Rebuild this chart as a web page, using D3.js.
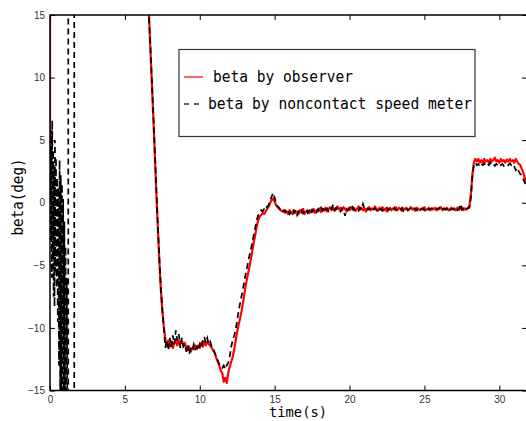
<!DOCTYPE html>
<html><head><meta charset="utf-8">
<script src="https://cdn.jsdelivr.net/npm/d3@7"></script>
<style>body{margin:0;background:#fff} svg{display:block}</style>
</head><body><svg id="c" width="526" height="421"></svg>
<script>
// ---- data ----
const xTicks = [0, 5, 10, 15, 20, 25, 30];
const yTicks = [-15, -10, -5, 0, 5, 10, 15];
const legendLabels = ["beta by observer", "beta by noncontact speed meter"];
const xLabel = "time(s)";
const yLabel = "beta(deg)";

// sampling of the regular parts of both series
const sampleStart = 6.5;   // s
const sampleStep = 0.1;    // s

// observer estimate (red): lead-in at t=0 (leaves the range), then regular samples
const redLead = [[0, 0.2], [0.01, 40]];
const redValues = [
  18, 15.2, 12.4, 9.6, 6.8, 3.8, 0.8, -2.0, -4.6, -6.9, -8.6, -9.9, -10.9,
  -11.4, -11.0, -11.5, -11.1, -11.6, -11.2, -10.9, -11.4, -11.0, -11.3,
  -11.0, -11.4, -11.2, -11.6, -11.8, -11.5, -11.9, -11.6, -11.7, -11.4,
  -11.7, -11.4, -11.6, -11.2, -11.5, -11.1, -11.4, -11.1, -11.3, -11.4,
  -11.6, -11.8, -12.0, -12.4, -12.7, -13.0, -13.4, -13.6, -14.3, -14.0,
  -14.4, -13.6, -13.1, -12.7, -12.3, -11.7, -11.0, -10.3, -9.7, -9.2,
  -8.6, -7.9, -7.1, -6.4, -5.8, -5.2, -4.6, -3.9, -3.2, -2.6,
  -1.9, -1.4, -1.1, -1.0, -0.8, -0.9, -0.7, -0.5, -0.3, 0.0,
  0.2, 0.35, 0.1, -0.2, -0.35, -0.5, -0.6, -0.7, -0.6, -0.8,
  -0.7, -0.9, -0.6, -0.8, -0.9, -0.6, -0.8, -0.7, -0.9, -0.6,
  -0.8, -0.5, -0.9, -0.7, -0.6, -0.85, -0.6, -0.75, -0.5, -0.8,
  -0.6, -0.7, -0.45, -0.75, -0.5, -0.65, -0.4, -0.7, -0.5, -0.35,
  -0.6, -0.4, -0.65, -0.45, -0.3, -0.55, -0.4, -0.6, -0.35, -0.5,
  -0.7, -0.45, -0.6, -0.35, -0.55, -0.4, -0.65, -0.5, -0.3, -0.55,
  -0.4, -0.6, -0.45, -0.7, -0.5, -0.35, -0.6, -0.45, -0.55, -0.3,
  -0.5, -0.65, -0.4, -0.55, -0.35, -0.6, -0.45, -0.7, -0.5, -0.4,
  -0.6, -0.45, -0.55, -0.35, -0.6, -0.4, -0.5, -0.65, -0.45, -0.55,
  -0.4, -0.6, -0.5, -0.35, -0.55, -0.45, -0.65, -0.4, -0.5, -0.6,
  -0.45, -0.55, -0.35, -0.6, -0.5, -0.4, -0.6, -0.45, -0.55, -0.4,
  -0.6, -0.45, -0.5, -0.35, -0.6, -0.45, -0.55, -0.4, -0.6, -0.5,
  -0.4, -0.55, -0.45, -0.6, -0.4, -0.55, -0.5, -0.35, -0.6, -0.45,
  -0.55, -0.4, -0.3, 0.6, 2.2, 3.2, 3.5, 3.3, 3.5, 3.2,
  3.4, 3.2, 3.5, 3.3, 3.4, 3.2, 3.5, 3.3, 3.4, 3.6,
  3.3, 3.4, 3.2, 3.5, 3.3, 3.4, 3.2, 3.45, 3.3, 3.5,
  3.3, 3.4, 3.2, 3.5, 3.3, 3.1, 3.0, 2.7, 2.4, 2.0,
  1.6
];

// noncontact speed meter (black dashed): oscillating start, two off-range spikes, then regular samples
const blackLead = [
  [0, 0.5], [0.03, 4.5], [0.06, -3], [0.09, 5.8], [0.12, -6], [0.15, 6.6], [0.18, -4.5],
  [0.21, 4.2], [0.24, -7.5], [0.27, 3], [0.3, -8.3], [0.33, 5], [0.36, -5.5], [0.4, 3.6],
  [0.44, -6.8], [0.48, 2], [0.52, -9.5], [0.56, 1.2], [0.6, -13], [0.64, 3.4], [0.68, -17],
  [0.72, 2.2], [0.76, -17], [0.8, 1.5], [0.84, -17], [0.88, 0.3], [0.92, -17], [0.96, -1.5],
  [1.0, -17], [1.04, -3.5], [1.08, -17], [1.12, -6], [1.16, -17], [1.22, -40], [1.22, 40]
];
const blackSpike = [[1.62, 40], [1.62, -40]];
const blackValues = [
  18, 15.0, 12.6, 9.8, 7.0, 4.1, 1.1, -1.8, -4.4, -6.8, -8.6, -10.0, -11.6,
  -11.0, -11.8, -10.8, -11.5, -10.6, -11.3, -10.2, -11.0, -10.5, -11.6,
  -10.8, -11.5, -11.3, -11.9, -11.4, -12.1, -11.6, -11.8, -11.3, -11.7,
  -11.5, -11.8, -11.3, -11.6, -11.0, -10.7, -11.2, -10.8, -11.3, -11.1,
  -11.5, -11.6, -12.0, -12.3, -12.6, -12.9, -13.1, -13.2, -13.0, -13.3,
  -13.0, -12.8, -12.3, -11.5, -11.0, -10.6, -10.1, -9.4, -8.6, -8.0,
  -7.4, -6.8, -6.1, -5.5, -4.9, -4.3, -3.8, -3.2, -2.6, -2.0,
  -1.4, -1.0, -0.9, -0.6, -0.7, -0.5, -0.6, -0.3, -0.2, 0.2,
  0.5, 0.8, 0.4, -0.1, -0.3, -0.4, -0.6, -0.5, -0.7, -0.6,
  -0.8, -0.6, -0.9, -0.7, -0.5, -0.8, -0.6, -1.0, -0.7, -0.8,
  -0.6, -0.85, -0.7, -0.5, -0.8, -0.65, -0.9, -0.55, -0.7, -0.6,
  -0.75, -0.5, -0.7, -0.4, -0.6, -0.3, -0.55, -0.45, -0.65, -0.4,
  -0.5, -0.15, -0.55, -0.4, -0.6, -0.5, -0.7, -0.45, -0.55, -1.05,
  -0.5, -0.6, -0.4, -0.55, -0.35, -0.6, -0.45, -0.5, -0.65, -0.4,
  -0.55, -0.1, -0.5, -0.6, -0.45, -0.55, -0.4, -0.6, -0.5, -0.45,
  -0.6, -0.4, -0.55, -0.5, -0.65, -0.45, -0.5, -0.4, -0.6, -0.5,
  -0.45, -0.55, -0.4, -0.6, -0.5, -0.45, -0.55, -0.4, -0.65, -0.5,
  -0.45, -0.6, -0.5, -0.4, -0.55, -0.5, -0.45, -0.6, -0.4, -0.55,
  -0.5, -0.45, -0.6, -0.5, -0.4, -0.55, -0.5, -0.45, -0.6, -0.5,
  -0.45, -0.55, -0.4, -0.6, -0.5, -0.45, -0.55, -0.5, -0.4, -0.6,
  -0.5, -0.45, -0.55, -0.4, -0.6, -0.5, -0.1, -0.55, -0.45, -0.6,
  -0.5, -0.45, -0.4, 0.4, 2.0, 3.0, 3.2, 3.0, 3.1, 2.9,
  3.1, 3.0, 3.15, 2.95, 3.1, 3.0, 3.2, 3.0, 3.1, 2.95,
  3.1, 3.0, 3.15, 3.0, 3.1, 2.95, 3.1, 3.05, 3.0, 3.15,
  3.0, 3.1, 2.9, 2.6, 2.8, 2.5, 2.3, 2.2, 1.9, 1.6,
  1.4
];

// ---- drawing ----
const svg = d3.select("#c");
const L = 50, R = 527, T = 15, B = 390.5;
const x = d3.scaleLinear().domain([0, 31.85]).range([L, R]);
const y = d3.scaleLinear().domain([-15, 15]).range([B, T]);

const toPts = vals => vals.map((v, i) => [sampleStart + i * sampleStep, v]);
const line = d3.line().x(d => x(d[0])).y(d => y(d[1]));

svg.append("defs").append("clipPath").attr("id", "clip")
  .append("rect").attr("x", L).attr("y", T).attr("width", R - L).attr("height", B - T);

const plot = svg.append("g").attr("clip-path", "url(#clip)");

[redLead, toPts(redValues)].forEach(seg => {
  plot.append("path").datum(seg).attr("d", line)
    .attr("fill", "none").attr("stroke", "#ff0000").attr("stroke-width", 2.2)
    .attr("stroke-linejoin", "round");
});
[blackLead, blackSpike, toPts(blackValues)].forEach(seg => {
  plot.append("path").datum(seg).attr("d", line)
    .attr("fill", "none").attr("stroke", "#000").attr("stroke-width", 1.7)
    .attr("stroke-dasharray", "6,4");
});

const tickFont = "'Liberation Sans Narrow','Liberation Sans',Arial,sans-serif";
function styleAxis(g) {
  g.select(".domain").remove();
  g.selectAll(".tick line").attr("stroke", "#000").attr("stroke-width", 1);
  g.selectAll(".tick text").attr("fill", "#333").style("font-size", "10px").style("font-family", tickFont);
}
svg.append("g").attr("transform", `translate(0,${B})`)
  .call(d3.axisBottom(x).tickValues(xTicks).tickSizeInner(-5).tickSizeOuter(0).tickPadding(5)).call(styleAxis);
svg.append("g").attr("transform", `translate(0,${T})`)
  .call(d3.axisTop(x).tickValues(xTicks).tickSizeInner(-5).tickSizeOuter(0).tickFormat("")).call(styleAxis);
svg.append("g").attr("transform", `translate(${L},0)`)
  .call(d3.axisLeft(y).tickValues(yTicks).tickSizeInner(-5).tickSizeOuter(0).tickPadding(5)).call(styleAxis);
svg.append("g").attr("transform", `translate(${R},0)`)
  .call(d3.axisRight(y).tickValues(yTicks).tickSizeInner(-5).tickSizeOuter(0).tickFormat("")).call(styleAxis);

// frame
svg.append("rect").attr("x", L).attr("y", T).attr("width", R - L).attr("height", B - T)
  .attr("fill", "none").attr("stroke", "#000").attr("stroke-width", 1.5);

// axis titles
const titleFont = "'DejaVu Sans Mono','Liberation Mono',monospace";
svg.append("text").attr("x", 298).attr("y", 417).attr("text-anchor", "middle")
  .style("font-family", titleFont).style("font-size", "13.5px").attr("fill", "#000")
  .attr("textLength", 58).attr("lengthAdjust", "spacingAndGlyphs").text(xLabel);
svg.append("text").attr("transform", "translate(23,197) rotate(-90)").attr("text-anchor", "middle")
  .style("font-family", titleFont).style("font-size", "16px").attr("fill", "#000")
  .attr("textLength", 77).attr("lengthAdjust", "spacingAndGlyphs").text(yLabel);

// legend
const lg = svg.append("g");
lg.append("rect").attr("x", 179).attr("y", 49.5).attr("width", 296).attr("height", 87)
  .attr("fill", "#fff").attr("stroke", "#333").attr("stroke-width", 1.2);
lg.append("line").attr("x1", 184).attr("x2", 203).attr("y1", 77).attr("y2", 77)
  .attr("stroke", "#ff0000").attr("stroke-width", 1.2);
lg.append("line").attr("x1", 184).attr("x2", 200).attr("y1", 104).attr("y2", 104)
  .attr("stroke", "#333").attr("stroke-width", 1.4).attr("stroke-dasharray", "5,5");
lg.append("text").attr("x", 213).attr("y", 82)
  .style("font-family", titleFont).style("font-size", "16px").attr("fill", "#000")
  .attr("textLength", 16 * 8.75).attr("lengthAdjust", "spacingAndGlyphs").text(legendLabels[0]);
lg.append("text").attr("x", 208).attr("y", 109)
  .style("font-family", titleFont).style("font-size", "16px").attr("fill", "#000")
  .attr("textLength", 30 * 8.8).attr("lengthAdjust", "spacingAndGlyphs").text(legendLabels[1]);
</script></body></html>
